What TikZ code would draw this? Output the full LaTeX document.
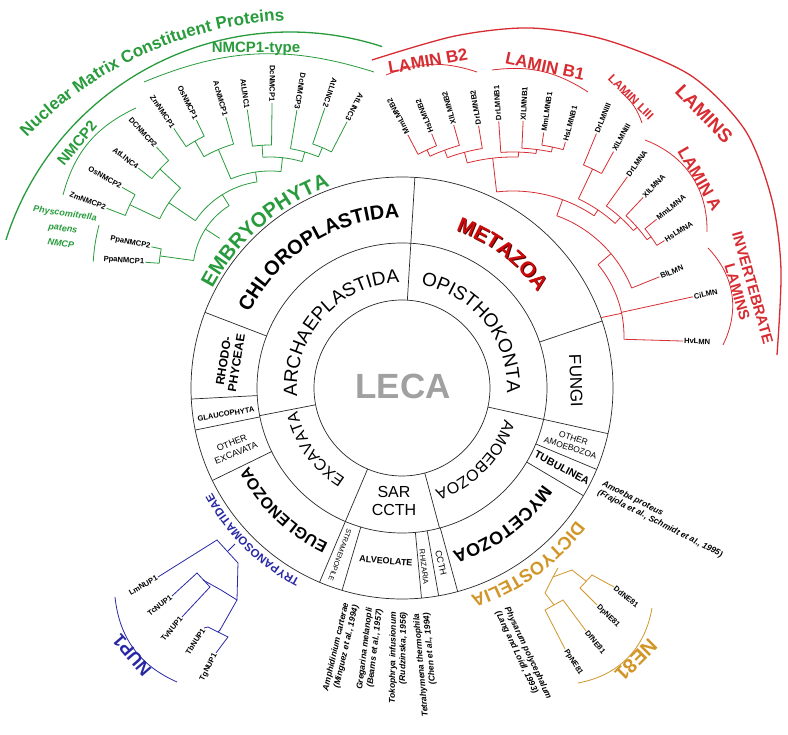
\documentclass[tikz,border=0pt]{standalone}
\usepackage{fontspec}
\setmainfont{Liberation Sans}
\usetikzlibrary{decorations.text}
\definecolor{gr}{RGB}{40,155,60}
\definecolor{rd}{RGB}{215,45,50}
\definecolor{dr}{RGB}{205,10,10}
\definecolor{mdark}{RGB}{80,0,0}
\definecolor{bu}{RGB}{40,40,165}
\definecolor{gd}{RGB}{210,150,40}
\definecolor{lc}{RGB}{160,160,160}
\definecolor{ln}{RGB}{40,40,40}
\newcommand\fz[2]{\fontsize{#1}{#2}\selectfont}
\newcommand\fArch{\fz{19}{22}}
\newcommand\fAmo{\fz{16}{19}}
\newcommand\fChl{\bfseries\fz{20}{24}}
\newcommand\fMet{\bfseries\fz{21}{24}}
\newcommand\fEug{\bfseries\fz{16}{19}}
\newcommand\fMyc{\bfseries\fz{18}{21}}
\newcommand\fEmb{\bfseries\fz{20.5}{24}}
\newcommand\fDic{\bfseries\fz{18}{21}}
\newcommand\fTry{\bfseries\fz{11.5}{14}}
\newcommand\fNuc{\bfseries\fz{17}{20}}
\newcommand\ctext[6]{\path[decorate,decoration={text along path,text align=center,text color=#1,text={|#2|#6}}] (#4:#3pt) arc[start angle=#4,end angle=#5,radius=#3pt];}
\newcommand\tarc[4]{\draw[#1] (#2:#4pt) arc[start angle=#2,end angle=#3,radius=#4pt];}
\newcommand\trad[4]{\draw[#1] (#2:#3pt) -- (#2:#4pt);}
\newcommand\gl[4]{\node[lf,anchor=east,rotate=#1-180] (#4) at (#1:#3pt) {#4}; \draw[gt] (#1:#2pt) -- (#4.east);}
\newcommand\rl[4]{\node[lf,anchor=west,rotate=#1] (#4) at (#1:#3pt) {#4}; \draw[rt] (#1:#2pt) -- (#4.west);}
\begin{document}
\begin{tikzpicture}[x=1pt,y=1pt,
 ring/.style={draw=ln,line width=0.7pt},
 gt/.style={draw=gr,line width=0.8pt},
 rt/.style={draw=rd,line width=0.8pt},
 bt/.style={draw=bu,line width=0.8pt},
 ot/.style={draw=gd,line width=0.8pt},
 lf/.style={font=\bfseries\fz{7.6}{9},inner sep=1pt},
 it/.style={font=\bfseries\itshape\fz{8.5}{10},inner sep=0pt}]
\fill[white] (-402,-347) rectangle (386,388);
\useasboundingbox (-402,-347) rectangle (386,388);
% ---------- rings
\draw[ring] (0,0) circle[radius=88pt];
\draw[ring] (0,0) circle[radius=145pt];
\draw[ring] (0,0) circle[radius=211pt];
\foreach \a in {86.5,-12.5,285,247,191} \draw[ring] (\a:88pt) -- (\a:145pt);
\foreach \a in {86.5,18.5,-12.5,-22.7,-30.7,285.3,280,275.3,253.5,247,206,191.5,183,159} \draw[ring] (\a:145pt) -- (\a:211pt);
\node[font=\bfseries\fz{35}{40},text=lc] (leca) at (1,2) {LECA};
\ctext{black}{\fArch}{105}{200}{76}{ARCHAEPLASTIDA}
\ctext{black}{\fArch}{105}{100}{-23}{OPISTHOKONTA}
\ctext{black}{\fAmo}{107}{5}{-94}{AMOEBOZOA}
\ctext{black}{\fAmo}{107}{250}{180.4}{EXCAVATA}
\ctext{black}{\fChl}{170}{175}{69.6}{CHLOROPLASTIDA}
\begin{scope}[shift={(0.9,-0.9)}]
\ctext{mdark}{\fMet}{166}{88}{18.4}{METAZOA}
\end{scope}
\ctext{dr}{\fMet}{166}{88}{18.4}{METAZOA}
\ctext{black}{\fEug}{172}{250.9}{200.9}{EUGLENOZOA}
\ctext{black}{\fMyc}{171}{-25}{-82.4}{MYCETOZOA}
\ctext{gr}{\fEmb}{214}{175}{87}{EMBRYOPHYTA}
\ctext{gd}{\fDic}{219}{-20}{-89}{DICTYOSTELIA}
\ctext{bu}{\fTry}{217}{260}{191}{TRYPANOSOMATIDAE}
\node[font=\fz{17}{20},rotate=-88] (fungi) at (174,7) {FUNGI};
\node[font=\bfseries\fz{12}{13},rotate=81,align=center] (rhodo) at (-172,26) {RHODO-\\PHYCEAE};
\node[font=\bfseries\fz{7.5}{9},rotate=10] (glau) at (-176,-26) {GLAUCOPHYTA};
\node[font=\fz{9}{11},rotate=22,align=center] (oexc) at (-168,-60) {OTHER\\EXCAVATA};
\node[font=\fz{7}{8},rotate=-110] (stra) at (-62,-167) {STRAMENOPILE};
\node[font=\bfseries\fz{9}{11},rotate=-5] (alve) at (-16,-173) {ALVEOLATE};
\node[font=\fz{7.5}{9},rotate=-83] (rhiz) at (22,-179) {RHIZARIA};
\node[font=\fz{9}{11},rotate=-77] (ccth) at (39,-175) {CCTH};
\node[font=\fz{8.5}{10},rotate=-18,align=center] (oamo) at (170,-55) {OTHER\\AMOEBOZOA};
\node[font=\bfseries\fz{10.5}{12},rotate=-28] (tubu) at (160,-80) {TUBULINEA};
\node[font=\fz{16}{18},align=center] (sar) at (-8,-113) {SAR\\CCTH};
% ---------- annotations
\node[it,rotate=-27,anchor=west,align=left] (amoe) at (-26.7:222pt) {Amoeba proteus\\(Frajola et al., Schmidt et al., 1995)};
\node[it,rotate=-65,anchor=west,align=left] (phys) at (-65.7:243pt) {Physarum polycephalum\\(Lang and Loidl, 1993)};
\node[it,rotate=76.8,anchor=east,align=right] (amph) at (-103.2:222pt) {Amphidinium carterae\\(Minguez et al., 1994)};
\node[it,rotate=83,anchor=east,align=right] (greg) at (-97:222pt) {Gregarina melanopli\\(Beams et al., 1957)};
\node[it,rotate=89.2,anchor=east,align=right] (toko) at (-90.8:224pt) {Tokophrya infusionum\\(Rudzinska, 1956)};
\node[it,rotate=95,anchor=east,align=right] (tetr) at (-85:226pt) {Tetrahymena thermophila\\(Chen et al., 1994)};
% ---------- green tree
\begin{scope}[shift={(-132,117)}]
\gl{176}{111}{125}{PpaNMCP1}
\gl{168.5}{111}{121}{PpaNMCP2}
\gl{159}{155}{175}{ZmNMCP2}
\gl{150.5}{155}{170}{OsNMCP2}
\gl{142}{150}{167}{AtLINC4}
\gl{132.5}{150}{168}{DCNMCP2}
\gl{124}{150}{172}{ZmNMCP1}
\gl{116}{150}{168}{OsNMCP1}
\gl{106}{132}{160}{AcNMCP1}
\gl{98}{126}{163}{AtLINC1}
\gl{89.3}{126}{168}{DcNMCP1}
\gl{80.5}{124}{163}{DcNMCP3}
\gl{71.4}{134}{172}{AtLINC2}
\gl{62.7}{134}{168}{AtLINC3}
\tarc{gt}{62.7}{71.4}{134} \trad{gt}{67}{124}{134}
\tarc{gt}{67}{80.5}{124} \trad{gt}{73.7}{114}{124}
\tarc{gt}{89.3}{98}{126} \trad{gt}{93.6}{114}{126}
\tarc{gt}{73.7}{93.6}{114} \trad{gt}{83.7}{100}{114}
\tarc{gt}{116}{124}{150} \trad{gt}{120}{132}{150}
\tarc{gt}{106}{120}{132} \trad{gt}{113}{100}{132}
\tarc{gt}{83.7}{113}{100} \trad{gt}{98.3}{90}{100}
\tarc{gt}{150.5}{159}{155} \trad{gt}{154.7}{122}{155}
\tarc{gt}{132.5}{142}{150} \trad{gt}{137.2}{122}{150}
\tarc{gt}{137.2}{154.7}{122} \trad{gt}{146}{90}{122}
\tarc{gt}{98.3}{146}{90} \trad{gt}{122}{77}{90}
\tarc{gt}{168.5}{176}{111} \trad{gt}{172.2}{77}{111}
\tarc{gt}{122}{172.2}{77} \trad{gt}{147}{60}{77}
\tarc{gt}{165}{177}{177}
\end{scope}
\node[font=\bfseries\fz{15}{18},text=gr] (nmcp1) at (-146,339) {NMCP1-type};
\draw[gt] (-258,306) to[bend left=20] (-28,316);
\node[font=\bfseries\fz{15}{18},text=gr,rotate=50] (nmcp2) at (-325,245) {NMCP2};
\draw[gt] (-339,193) to[bend left=25] (-266,280);
\node[font=\bfseries\itshape\fz{9}{15},text=gr,align=center,rotate=-8] (phy) at (-339,160) {Physcomitrella\\patens\\NMCP};
\begin{scope}[shift={(-112,58)}]
\tarc{gt,line width=1.3pt}{162.4}{72}{298}
\end{scope}
\begin{scope}[shift={(-98,-18)}]
\ctext{gr}{\fNuc}{386}{150}{78.8}{Nuclear Matrix Constituent Proteins}
\end{scope}
% ---------- red tree
\begin{scope}[shift={(111,52)}]
\rl{117.6}{205}{227}{MmLMNB2}
\rl{111.9}{205}{218}{HsLMNB2}
\rl{105.7}{198}{219}{XlLMNB2}
\rl{99.3}{190}{213}{DrLMNB2}
\rl{93.8}{184}{215}{DrLMNB1}
\rl{87.3}{188}{215}{XlLMNB1}
\rl{81.4}{193}{206}{MmLMNB1}
\rl{74.9}{193}{201}{HsLMNB1}
\rl{67.6}{185}{219}{DrLMNIII}
\rl{61.4}{185}{210}{XlLMNIII}
\rl{54.3}{160}{196}{DrLMNA}
\rl{46.8}{165}{190}{XlLMNA}
\rl{39.1}{170}{185}{MmLMNA}
\rl{32.2}{170}{179}{HsLMNA}
\rl{22}{128}{158}{BlLMN}
\rl{12.3}{111}{184}{CiLMN}
\rl{-1.7}{111}{170}{HvLMN}
\tarc{rt}{111.9}{117.6}{205} \trad{rt}{114.8}{198}{205}
\tarc{rt}{105.7}{114.8}{198} \trad{rt}{110.2}{190}{198}
\tarc{rt}{99.3}{110.2}{190} \trad{rt}{104.8}{179}{190}
\tarc{rt}{74.9}{81.4}{193} \trad{rt}{78.2}{188}{193}
\tarc{rt}{78.2}{87.3}{188} \trad{rt}{82.8}{184}{188}
\tarc{rt}{82.8}{93.8}{184} \trad{rt}{88.3}{179}{184}
\tarc{rt}{88.3}{104.8}{179} \trad{rt}{96.5}{145}{179}
\tarc{rt}{61.4}{67.6}{185} \trad{rt}{64.5}{152}{185}
\tarc{rt}{32.2}{39.1}{170} \trad{rt}{35.7}{165}{170}
\tarc{rt}{35.7}{46.8}{165} \trad{rt}{41.2}{160}{165}
\tarc{rt}{41.2}{54.3}{160} \trad{rt}{47.8}{152}{160}
\tarc{rt}{47.8}{64.5}{152} \trad{rt}{56}{145}{152}
\tarc{rt}{56}{96.5}{145} \trad{rt}{70}{128}{145}
\tarc{rt}{22}{70}{128} \trad{rt}{40}{111}{128}
\tarc{rt}{-1.7}{40}{111}
\trad{rt}{11.8}{90}{111}
\end{scope}
\node[font=\bfseries\fz{17}{20},text=rd,rotate=10] (lb2) at (26,327) {LAMIN B2};
\draw[rt] (-16,313) to[bend left=20] (75,316);
\node[font=\bfseries\fz{17}{20},text=rd,rotate=-12] (lb1) at (143,322) {LAMIN B1};
\draw[rt] (90,318) to[bend left=20] (186,296);
\node[font=\bfseries\fz{12}{14},text=rd,rotate=-45] (l3) at (229,291) {LAMIN LIII};
\draw[rt] (219,296) to[bend left=15] (240,265);
\node[font=\bfseries\fz{17}{20},text=rd,rotate=-60] (la) at (298,209) {LAMIN A};
\draw[rt] (243,248) to[bend left=35] (305,156);
\node[font=\bfseries\fz{15}{16},text=rd,rotate=-74,align=center] (inv) at (343,98) {INVERTEBRATE\\LAMINS};
\draw[rt] (306,140) to[bend left=35] (321,43);
\node[font=\bfseries\fz{19}{22},text=rd,rotate=-46] (lamins) at (302,274) {LAMINS};
\draw[rt,line width=1.3pt] plot[smooth] coordinates {(-30,328) (53,352) (128,360) (204,348) (288,313) (343,258) (370,188) (379,118) (375,33)};
% ---------- blue tree
\node[lf,anchor=east,rotate=30] (LmNUP1) at (-244,-189) {LmNUP1};
\node[lf,anchor=east,rotate=38] (TcNUP1) at (-230,-208) {TcNUP1};
\node[lf,anchor=east,rotate=50] (TvNUP1) at (-220,-229) {TvNUP1};
\node[lf,anchor=east,rotate=57] (TbNUP1) at (-198,-240) {TbNUP1};
\node[lf,anchor=east,rotate=63] (TgNUP1) at (-186,-265) {TgNUP1};
\draw[bt] (LmNUP1.east) -- (-185,-152) -- (-164,-175) -- (-165,-212);
\draw[bt] (-174,-163) -- (-167,-156);
\draw[bt] (TcNUP1.east) -- (-205,-185) -- (-192,-199) -- (TvNUP1.east);
\draw[bt] (-199,-192) -- (-181,-202) -- (-165,-212) -- (-182,-242);
\draw[bt] (TbNUP1.east) -- (-194,-239) -- (-174,-249) -- (TgNUP1.east);
\draw[bt] (-184,-244) -- (-182,-242);
\node[font=\bfseries\fz{18}{20},text=bu,rotate=131] (nup) at (-270,-267) {NUP1};
\draw[bt] (-287,-209) to[bend right=30] (-225,-294);
% ---------- gold tree
\node[lf,anchor=west,rotate=-39] (DdNE81) at (212,-199) {DdNE81};
\node[lf,anchor=west,rotate=-45] (DpNE81) at (195,-217) {DpNE81};
\node[lf,anchor=west,rotate=-50] (DfNE81) at (184,-243) {DfNE81};
\node[lf,anchor=west,rotate=-58] (PpNE81) at (163,-261) {PpNE81};
\draw[ot] (DdNE81.west) -- (190,-187) -- (178,-200) -- (DpNE81.west);
\draw[ot] (DfNE81.west) -- (161,-212) -- (143,-222) -- (PpNE81.west);
\draw[ot] (184,-193) -- (170,-182) -- (151,-189) -- (143,-205) -- (152,-217);
\draw[ot] (151,-189) -- (156,-180);
\node[font=\bfseries\fz{20}{22},text=gd,rotate=-135] (ne) at (234,-272) {NE81};
\draw[ot] (176,-295) to[bend right=35] (250,-220);
\end{tikzpicture}
\end{document}
